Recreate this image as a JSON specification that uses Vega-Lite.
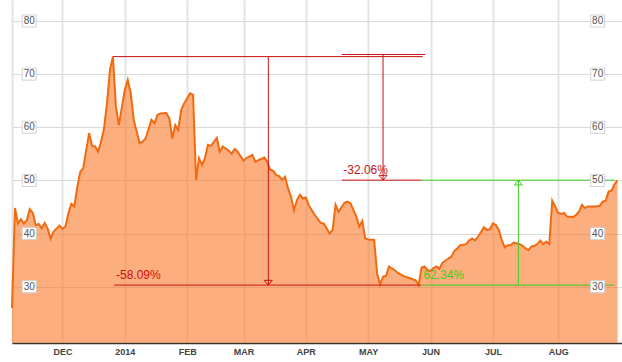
{
  "$schema": "https://vega.github.io/schema/vega-lite/v6.json",
  "width": 610,
  "height": 343,
  "autosize": {"type": "none"},
  "padding": {"left": 12, "top": 0, "right": 0, "bottom": 19},
  "background": "white",
  "config": {"view": {"stroke": null}, "font": "Liberation Sans"},
  "datasets": {
    "price": [
      {"i": -1, "p": 26.0}, {"i": 0, "p": 44.8}, {"i": 1, "p": 41.9}, {"i": 2, "p": 42.7}, {"i": 3, "p": 41.9},
      {"i": 4, "p": 42.5}, {"i": 5, "p": 44.6}, {"i": 6, "p": 43.9}, {"i": 7, "p": 41.6}, {"i": 8, "p": 41.8},
      {"i": 9, "p": 41.0}, {"i": 10, "p": 42.0}, {"i": 11, "p": 41.0}, {"i": 12, "p": 39.0}, {"i": 13, "p": 40.4},
      {"i": 15, "p": 41.5}, {"i": 16, "p": 40.9}, {"i": 17, "p": 41.3}, {"i": 18, "p": 43.8}, {"i": 19, "p": 45.6},
      {"i": 20, "p": 45.1}, {"i": 21, "p": 48.8}, {"i": 22, "p": 51.6}, {"i": 23, "p": 52.3}, {"i": 24, "p": 55.7},
      {"i": 25, "p": 58.9}, {"i": 26, "p": 56.5}, {"i": 27, "p": 56.4}, {"i": 28, "p": 55.4}, {"i": 29, "p": 57.3},
      {"i": 30, "p": 59.8}, {"i": 31, "p": 64.5}, {"i": 32, "p": 70.8}, {"i": 33, "p": 73.3}, {"i": 34, "p": 63.9},
      {"i": 35, "p": 60.4}, {"i": 37, "p": 67.0}, {"i": 38, "p": 68.9}, {"i": 39, "p": 66.4}, {"i": 40, "p": 61.4},
      {"i": 41, "p": 59.2}, {"i": 42, "p": 57.0}, {"i": 43, "p": 57.3}, {"i": 44, "p": 57.9}, {"i": 46, "p": 61.4},
      {"i": 47, "p": 60.7}, {"i": 48, "p": 62.3}, {"i": 49, "p": 62.6}, {"i": 51, "p": 62.7}, {"i": 52, "p": 61.7},
      {"i": 53, "p": 57.9}, {"i": 54, "p": 60.4}, {"i": 55, "p": 59.5}, {"i": 56, "p": 63.3}, {"i": 57, "p": 64.5},
      {"i": 59, "p": 66.4}, {"i": 60, "p": 66.1}, {"i": 61, "p": 50.1}, {"i": 62, "p": 54.2}, {"i": 63, "p": 52.9},
      {"i": 64, "p": 54.2}, {"i": 65, "p": 56.7}, {"i": 66, "p": 56.5}, {"i": 68, "p": 58.0}, {"i": 69, "p": 55.4},
      {"i": 70, "p": 56.4}, {"i": 72, "p": 55.6}, {"i": 73, "p": 55.0}, {"i": 74, "p": 55.9}, {"i": 75, "p": 55.4},
      {"i": 77, "p": 53.7}, {"i": 78, "p": 54.2}, {"i": 80, "p": 54.8}, {"i": 81, "p": 53.5}, {"i": 82, "p": 53.8},
      {"i": 84, "p": 54.3}, {"i": 85, "p": 53.5}, {"i": 86, "p": 52.0}, {"i": 87, "p": 51.8}, {"i": 88, "p": 51.0},
      {"i": 89, "p": 50.8}, {"i": 90, "p": 50.1}, {"i": 91, "p": 50.7}, {"i": 92, "p": 48.5}, {"i": 93, "p": 46.9},
      {"i": 94, "p": 44.4}, {"i": 95, "p": 46.3}, {"i": 96, "p": 47.3}, {"i": 97, "p": 46.6}, {"i": 98, "p": 46.8},
      {"i": 99, "p": 45.3}, {"i": 101, "p": 43.5}, {"i": 103, "p": 42.0}, {"i": 104, "p": 41.9}, {"i": 106, "p": 40.0},
      {"i": 107, "p": 40.7}, {"i": 108, "p": 45.4}, {"i": 109, "p": 44.1}, {"i": 111, "p": 45.8}, {"i": 112, "p": 46.0},
      {"i": 113, "p": 45.7}, {"i": 115, "p": 43.2}, {"i": 116, "p": 41.3}, {"i": 117, "p": 42.4}, {"i": 118, "p": 39.1},
      {"i": 119, "p": 38.9}, {"i": 121, "p": 38.8}, {"i": 122, "p": 32.5}, {"i": 123, "p": 30.4}, {"i": 124, "p": 31.9},
      {"i": 125, "p": 32.0}, {"i": 126, "p": 33.8}, {"i": 128, "p": 33.1}, {"i": 129, "p": 32.6}, {"i": 131, "p": 32.0},
      {"i": 133, "p": 31.6}, {"i": 135, "p": 31.2}, {"i": 136, "p": 30.3}, {"i": 137, "p": 33.6}, {"i": 138, "p": 33.8},
      {"i": 139, "p": 33.1}, {"i": 140, "p": 33.0}, {"i": 141, "p": 33.5}, {"i": 142, "p": 33.8}, {"i": 143, "p": 33.4},
      {"i": 144, "p": 34.5}, {"i": 146, "p": 35.3}, {"i": 147, "p": 35.6}, {"i": 148, "p": 36.7}, {"i": 149, "p": 37.2},
      {"i": 150, "p": 37.8}, {"i": 152, "p": 38.0}, {"i": 153, "p": 38.7}, {"i": 154, "p": 39.1}, {"i": 155, "p": 38.7},
      {"i": 156, "p": 39.4}, {"i": 158, "p": 41.2}, {"i": 159, "p": 40.7}, {"i": 160, "p": 40.8}, {"i": 161, "p": 41.9},
      {"i": 162, "p": 41.6}, {"i": 163, "p": 40.7}, {"i": 164, "p": 38.8}, {"i": 165, "p": 37.4}, {"i": 166, "p": 37.8},
      {"i": 167, "p": 37.8}, {"i": 168, "p": 38.3}, {"i": 170, "p": 38.0}, {"i": 171, "p": 37.7}, {"i": 172, "p": 37.2},
      {"i": 173, "p": 36.9}, {"i": 174, "p": 37.6}, {"i": 175, "p": 37.7}, {"i": 176, "p": 38.0}, {"i": 177, "p": 38.7},
      {"i": 178, "p": 38.0}, {"i": 179, "p": 38.5}, {"i": 180, "p": 38.0}, {"i": 181, "p": 46.2}, {"i": 182, "p": 45.1},
      {"i": 183, "p": 43.9}, {"i": 184, "p": 43.7}, {"i": 185, "p": 43.9}, {"i": 186, "p": 43.2}, {"i": 188, "p": 43.1},
      {"i": 189, "p": 43.5}, {"i": 190, "p": 44.1}, {"i": 191, "p": 45.4}, {"i": 192, "p": 44.8}, {"i": 193, "p": 45.1},
      {"i": 195, "p": 45.1}, {"i": 197, "p": 45.2}, {"i": 198, "p": 46.0}, {"i": 199, "p": 46.2}, {"i": 200, "p": 47.9},
      {"i": 201, "p": 48.1}, {"i": 202, "p": 49.3}, {"i": 203, "p": 50.0}
    ],
    "ticks": [{"v": 30}, {"v": 40}, {"v": 50}, {"v": 60}, {"v": 70}, {"v": 80}],
    "segs": [
      {"m": "drop", "x": 33, "x2": 137.4, "y": 73.3, "y2": 73.3},
      {"m": "drop", "x": 33.4, "x2": 136.8, "y": 30.3, "y2": 30.3},
      {"m": "drop", "x": 85.35, "x2": 85.35, "y": 73.3, "y2": 30.3},
      {"m": "drop", "x": 110.1, "x2": 138.2, "y": 73.7, "y2": 73.7},
      {"m": "drop", "x": 124.0, "x2": 124.0, "y": 73.7, "y2": 50.05},
      {"m": "drop", "x": 110.1, "x2": 136.8, "y": 50.05, "y2": 50.05},
      {"m": "rise", "x": 136.8, "x2": 202.2, "y": 50.05, "y2": 50.05},
      {"m": "rise", "x": 136.8, "x2": 201.9, "y": 30.3, "y2": 30.3},
      {"m": "rise", "x": 169.6, "x2": 169.6, "y": 30.3, "y2": 50.05}
    ],
    "arrows": [
      {"m": "drop", "x": 85.35, "y": 30.3, "dir": "down"},
      {"m": "drop", "x": 124.0, "y": 50.05, "dir": "down"},
      {"m": "rise", "x": 169.6, "y": 50.05, "dir": "up"}
    ],
    "labels": [
      {"m": "drop", "x": 34.04, "y": 30.3, "t": "-58.09%"},
      {"m": "drop", "x": 110.6, "y": 50.05, "t": "-32.06%"},
      {"m": "rise", "x": 137.6, "y": 30.3, "t": "62.34%"}
    ]
  },
  "layer": [
    {
      "data": {"name": "price"},
      "mark": {"type": "area", "fill": "#fc7828", "fillOpacity": 0.6},
      "encoding": {
        "x": {
          "field": "i", "type": "quantitative", "title": null,
          "scale": {"domain": [-1, 204.5], "nice": false, "zero": false},
          "axis": {
            "orient": "bottom", "grid": true, "gridColor": "#e4e4e4", "gridWidth": 2,
            "ticks": false, "domain": true, "domainColor": "#333333", "domainWidth": 1.5,
            "labelFontSize": 9, "labelFontWeight": "bold", "labelColor": "#444444", "labelFont": "Liberation Sans",
            "labelPadding": 4, "labelOverlap": false, "labelFlush": false,
            "values": [-1, 16, 37, 58, 77, 98, 119, 140, 161, 183],
            "labelExpr": "['','DEC','2014','FEB','MAR','APR','MAY','JUN','JUL','AUG'][indexof([-1,16,37,58,77,98,119,140,161,183], datum.value)]"
          }
        },
        "y": {
          "field": "p", "type": "quantitative", "title": null,
          "scale": {"domain": [19.41, 83.95], "nice": false, "zero": false},
          "axis": {
            "grid": true, "gridColor": "#dadada", "gridWidth": 1, "labels": false,
            "ticks": false, "domain": false, "values": [30, 40, 50, 60, 70, 80]
          }
        },
        "y2": {"datum": 19.41}
      }
    },
    {
      "data": {"name": "labels"},
      "mark": {"type": "text", "align": "left", "baseline": "alphabetic", "dy": -6, "fontSize": 12, "font": "Liberation Sans"},
      "encoding": {
        "x": {"field": "x", "type": "quantitative", "title": null},
        "y": {"field": "y", "type": "quantitative", "title": null},
        "text": {"field": "t"},
        "color": {"field": "m", "type": "nominal", "scale": {"domain": ["drop", "rise"], "range": ["#cc1111", "#3ccf1e"]}, "legend": null}
      }
    },
    {
      "data": {"name": "price"},
      "mark": {"type": "line", "color": "#f26a10", "strokeWidth": 2},
      "encoding": {
        "x": {"field": "i", "type": "quantitative", "title": null},
        "y": {"field": "p", "type": "quantitative", "title": null}
      }
    },
    {
      "data": {"name": "segs"},
      "mark": {"type": "rule", "strokeWidth": 1},
      "encoding": {
        "x": {"field": "x", "type": "quantitative", "title": null},
        "x2": {"field": "x2"},
        "y": {"field": "y", "type": "quantitative", "title": null},
        "y2": {"field": "y2"},
        "color": {"field": "m", "type": "nominal", "legend": null}
      }
    },
    {
      "data": {"name": "arrows"},
      "mark": {"type": "point", "filled": false, "size": 64, "strokeWidth": 1, "opacity": 1},
      "encoding": {
        "x": {"field": "x", "type": "quantitative", "title": null},
        "y": {"field": "y", "type": "quantitative", "title": null},
        "color": {"field": "m", "type": "nominal", "legend": null},
        "shape": {"field": "dir", "type": "nominal", "scale": {"domain": ["down", "up"], "range": ["M-1,-1.2L1,-1.2L0,0Z", "M-1,1.2L1,1.2L0,0Z"]}, "legend": null}
      }
    },
    {
      "data": {"name": "ticks"},
      "mark": {"type": "point", "shape": "M-1,-0.857H1V0.857H-1Z", "size": 196, "filled": true, "fill": "white", "stroke": "#d2d2d2", "strokeWidth": 1, "opacity": 1},
      "encoding": {
        "x": {"datum": 4.8, "type": "quantitative"},
        "y": {"field": "v", "type": "quantitative", "title": null}
      }
    },
    {
      "data": {"name": "ticks"},
      "mark": {"type": "point", "shape": "M-1,-0.857H1V0.857H-1Z", "size": 196, "filled": true, "fill": "white", "stroke": "#d2d2d2", "strokeWidth": 1, "opacity": 1},
      "encoding": {
        "x": {"datum": 196.3, "type": "quantitative"},
        "y": {"field": "v", "type": "quantitative", "title": null}
      }
    },
    {
      "data": {"name": "ticks"},
      "mark": {"type": "text", "align": "center", "baseline": "middle", "fontSize": 10, "color": "#555555", "font": "Liberation Sans"},
      "encoding": {
        "x": {"datum": 4.8, "type": "quantitative"},
        "y": {"field": "v", "type": "quantitative", "title": null},
        "text": {"field": "v"}
      }
    },
    {
      "data": {"name": "ticks"},
      "mark": {"type": "text", "align": "center", "baseline": "middle", "fontSize": 10, "color": "#555555", "font": "Liberation Sans"},
      "encoding": {
        "x": {"datum": 196.3, "type": "quantitative"},
        "y": {"field": "v", "type": "quantitative", "title": null},
        "text": {"field": "v"}
      }
    }
  ]
}
